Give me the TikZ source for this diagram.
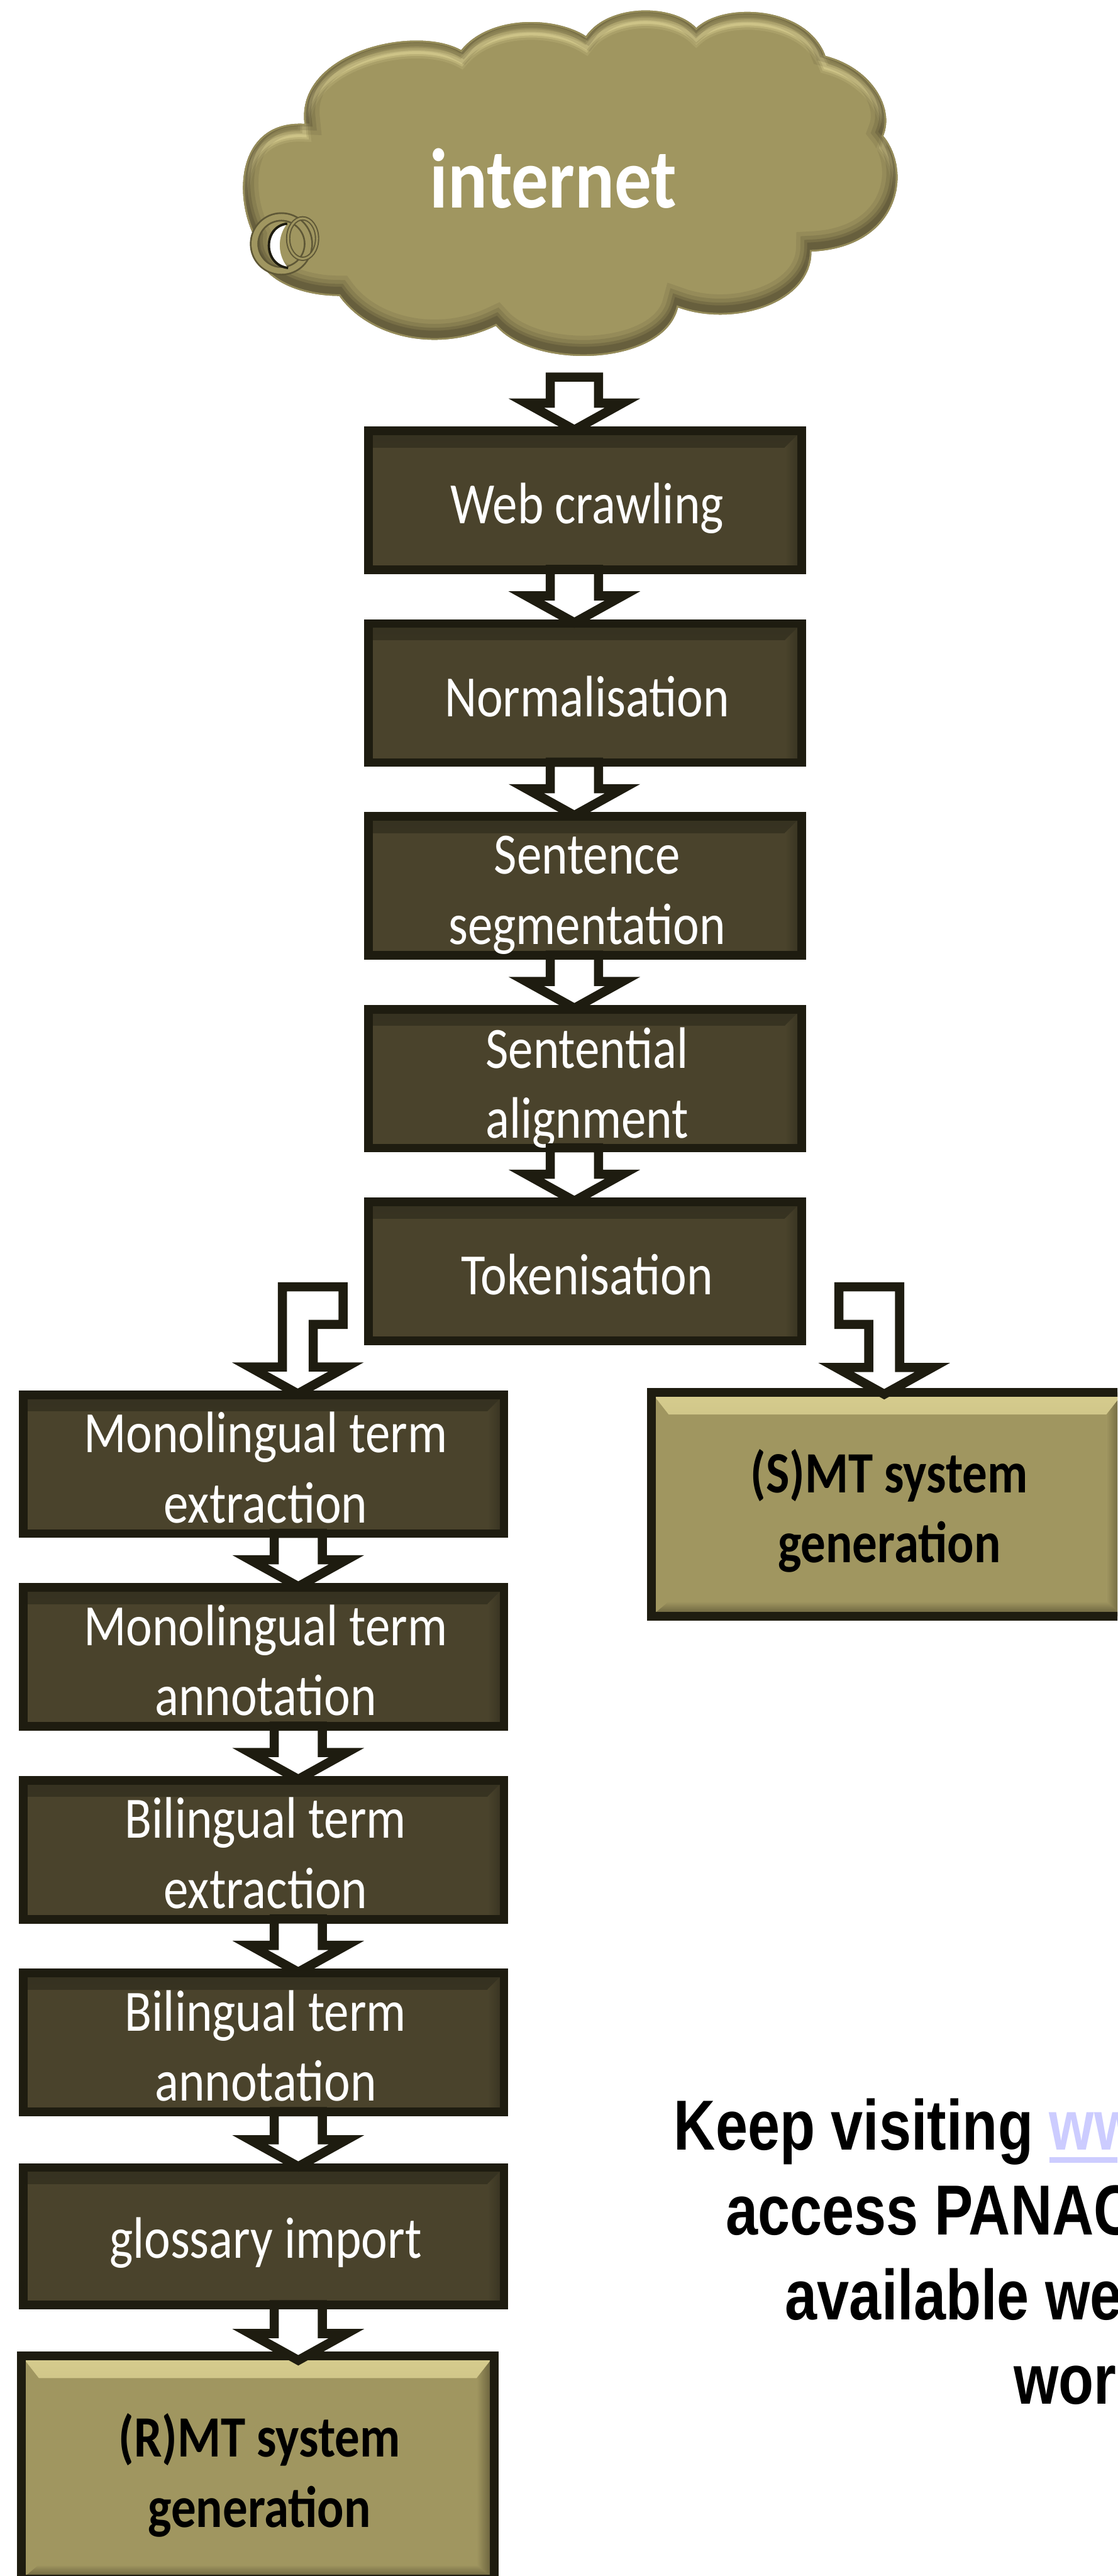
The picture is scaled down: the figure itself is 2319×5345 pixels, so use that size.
\documentclass[tikz,border=0pt]{standalone}
\usepackage{fontspec}
\usetikzlibrary{calc}
\setmainfont[FakeStretch=.85]{Carlito}
\newfontfamily\cloudfont[FakeStretch=.87]{Carlito}
\newfontfamily\notefont[FakeStretch=.815]{Liberation Sans}
\definecolor{boxedge}{HTML}{1E1C10}
\definecolor{boxdark}{HTML}{4A432C}
\definecolor{boxmid}{HTML}{353120}
\definecolor{tanbase}{HTML}{A09660}
\definecolor{tanlight}{HTML}{D6CC8E}
\definecolor{tanshade}{HTML}{5E5736}
\definecolor{linkblue}{HTML}{CCCCFF}
\newcommand{\cloudpath}{(957,104)
 .. controls (1015,32) and (1149,32) .. (1216,75)
 .. controls (1263,7) and (1397,7) .. (1445,58)
 .. controls (1503,3) and (1675,12) .. (1713,116)
 .. controls (1809,141) and (1857,224) .. (1833,282)
 .. controls (1895,357) and (1866,514) .. (1684,522)
 .. controls (1684,630) and (1522,680) .. (1407,638)
 .. controls (1378,760) and (1110,769) .. (1029,676)
 .. controls (909,734) and (766,701) .. (704,614)
 .. controls (613,614) and (522,572) .. (531,498)
 .. controls (479,398) and (498,249) .. (632,257)
 .. controls (613,108) and (861,50) .. (957,104) -- cycle}
\newcommand{\linktext}[1]{{\color{linkblue}\setbox0\hbox{#1}\rlap{\rule[-7.4pt]{\wd0}{3.1pt}}\box0}}

\begin{document}
\begin{tikzpicture}[x=.01cm,y=-.01cm]
\tikzstyle{darktext}=[text=white,align=center,inner sep=0pt,font=\fontsize{34.5}{41.3}\selectfont];
\tikzstyle{tantext}=[text=black,align=center,inner sep=0pt,font=\fontsize{34.5}{41.3}\selectfont\bfseries];
\tikzstyle{darkbox}=[draw=boxedge,line width=.18cm,fill=boxdark,inner sep=0pt,
 path picture={
  \shade[top color=boxmid,bottom color=boxdark] (path picture bounding box.north west) rectangle ($(path picture bounding box.north east)+(0,34)$);
  \shade[left color=boxdark,right color=boxmid] (path picture bounding box.north east) -- (path picture bounding box.south east) -- ++(-34,0) -- ($(path picture bounding box.north east)+(-34,34)$) -- cycle;
 }];
\tikzstyle{tanbox}=[draw=boxedge,line width=.18cm,fill=tanbase,inner sep=0pt,
 path picture={
  \shade[top color=tanlight,bottom color=tanbase] (path picture bounding box.north west) -- (path picture bounding box.north east) -- ++(-36,46) -- ($(path picture bounding box.north west)+(36,46)$) -- cycle;
  \shade[left color=tanbase,right color=tanshade] (path picture bounding box.north east) -- (path picture bounding box.south east) -- ++(-36,-30) -- ($(path picture bounding box.north east)+(-36,46)$) -- cycle;
  \shade[top color=tanbase,bottom color=tanshade] (path picture bounding box.south west) -- (path picture bounding box.south east) -- ++(-36,-30) -- ($(path picture bounding box.south west)+(36,-30)$) -- cycle;
 }];
\tikzstyle{blockarrow}=[draw=boxedge,fill=white,line width=.19cm,
 to path={($(\tikztostart)+(-50,-9.5)$) -- ($(\tikztostart)+(50,-9.5)$) -- ($(\tikztotarget)+(50,-48.5)$) -- ($(\tikztotarget)+(100,-48.5)$) -- ($(\tikztotarget)+(0,7)$) -- ($(\tikztotarget)+(-100,-48.5)$) -- ($(\tikztotarget)+(-50,-48.5)$) -- cycle}];
\tikzstyle{bentarrow}[1]=[draw=boxedge,fill=white,line width=.19cm,
 to path={($(\tikztostart)+(-32*#1,0)$) -- ($(\tikztostart)+(94*#1,0)$) -- ($(\tikztostart)+(94*#1,78)$) -- ($(\tikztostart)+(32*#1,78)$) -- ($(\tikztotarget)+(32*#1,-48.5)$) -- ($(\tikztotarget)+(100*#1,-48.5)$) -- ($(\tikztotarget)+(0,7)$) -- ($(\tikztotarget)+(-100*#1,-48.5)$) -- ($(\tikztotarget)+(-32*#1,-48.5)$) -- cycle}];
\tikzstyle{notetext}=[anchor=base west,inner sep=0pt,font=\notefont\bfseries\fontsize{41.8}{50}\selectfont];

\useasboundingbox (0,0) rectangle (2319,5345);
\clip (0,0) rectangle (2319,5345);

% cloud
\begin{scope}
\clip \cloudpath;
\fill[tanbase] \cloudpath;
\foreach \w/\o in {26/.2,16/.4,8/.7}
{
\draw[tanlight,line width=\w*.01cm,opacity=\o,shift={(0,24)}] \cloudpath;
}
\foreach \w/\o in {64/.12,46/.18,30/.26,18/.34}
{
\draw[boxdark,line width=\w*.01cm,opacity=\o,shift={(0,-10)}] \cloudpath;
}
\draw[tanbase,line width=.07cm,opacity=.8] \cloudpath;
\end{scope}
% ring on the cloud
\draw[tanshade,line width=.19cm] (584,506) circle (56);
\draw[tanbase,line width=.12cm] (584,506) circle (56);
\fill[white] (596,464) .. controls (545,470) and (545,550) .. (598,556) .. controls (575,530) and (575,490) .. (596,464) -- cycle;
\draw[boxedge,line width=.05cm] (596,464) .. controls (545,470) and (545,550) .. (598,556);
\draw[tanshade,line width=.09cm] (628,495) ellipse (30 and 42);
\draw[tanbase,line width=.04cm] (628,495) ellipse (30 and 42);

\node[anchor=base,text=white,inner sep=0pt,font=\cloudfont\fontsize{50}{60}\selectfont\bfseries] (internet) at (1148,431) {internet};

% boxes
\foreach \n/\t/\y/\d in {web/Web crawling/1038/4.8,norm/Normalisation/1438/2,sent/Sentence\\segmentation/1838/5.5,
 align/Sentential\\alignment/2238/5.5,token/Tokenisation/2638/2}
{
\node[darkbox,minimum width=8.98cm,minimum height=2.88cm,label={[darktext,xshift=1.2pt,yshift=-\d pt]center:\t}] (\n) at (1214,\y) {};
}
\foreach \n/\t/\y/\h/\d in {monoext/Monolingual term\\extraction/3038/2.88/2,monoann/Monolingual term\\annotation/3438/2.88/2,
 biext/Bilingual term\\extraction/3838/2.88/2,biann/Bilingual term\\annotation/4238/2.88/2,gloss/glossary import/4640/2.85/4}
{
\node[darkbox,minimum width=9.97cm,minimum height=\h cm,label={[darktext,xshift=1.2pt,yshift=-\d pt]center:\t}] (\n) at (547,\y) {};
}
\node[tanbox,minimum width=9.8cm,minimum height=4.63cm,label={[tantext,xshift=1pt,yshift=-4.5pt]center:(R)MT system\\generation}] (rmt) at (535,5120) {};
\node[tanbox,minimum width=9.8cm,minimum height=4.64cm,label={[tantext,xshift=1pt,yshift=-4pt]center:(S)MT system\\generation}] (smt) at (1842,3121) {};

% arrows
\coordinate (axisa) at (1192,0);
\coordinate (axisb) at (619,0);
\coordinate (axisc) at (1835,0);
\coordinate (netfoot) at (1192,792);
\coordinate (tokleft) at (618,2670);
\coordinate (tokright) at (1835,2670);
\draw[blockarrow] (netfoot) to (web.north -| axisa);
\foreach \a/\b in {web/norm,norm/sent,sent/align,align/token}
{
\draw[blockarrow] (\a.south -| axisa) to (\b.north -| axisa);
}
\foreach \a/\b in {monoext/monoann,monoann/biext,biext/biann,biann/gloss}
{
\draw[blockarrow] (\a.south -| axisb) to (\b.north -| axisb);
}
\draw[blockarrow] (gloss.south -| axisb) to ($(rmt.north -| axisb)+(0,11)$);
\draw[bentarrow=1] (tokleft) to (monoext.north -| tokleft);
\draw[bentarrow=-1] (tokright) to ($(smt.north -| axisc)+(0,6)$);

% note on the right
\node[notetext] (note1) at (1398,4461) {Keep visiting \linktext{www}};
\node[notetext] (note2) at (1506,4637) {access PANAC};
\node[notetext] (note3) at (1629,4813) {available we};
\node[notetext] (note4) at (2103,4988) {wor};
\end{tikzpicture}
\end{document}
